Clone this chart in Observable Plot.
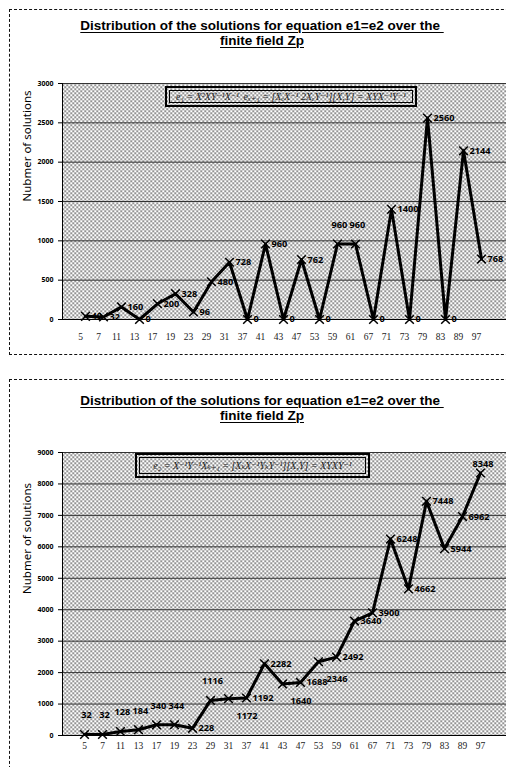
<!DOCTYPE html>
<html><head><meta charset="utf-8">
<script src="https://cdn.jsdelivr.net/npm/d3@7"></script>
<script src="https://cdn.jsdelivr.net/npm/@observablehq/plot@0.6"></script>
<style>
html,body{margin:0;padding:0;background:#fff}
body{width:506px;height:767px;overflow:hidden;position:relative;font-family:"Liberation Sans",Arial,sans-serif}
.box{position:absolute;border:1px dashed #111;border-right:none;box-sizing:border-box}
.title{position:absolute;left:12px;width:500px;text-align:center;font-weight:bold;font-size:13.5px;line-height:15px;color:#000}
.title u{text-decoration-thickness:1px;text-underline-offset:2px}
.formula{position:absolute;border:2px solid #000;outline:1px solid #000;outline-offset:-5px;box-sizing:border-box;font-family:"Liberation Serif","DejaVu Serif",serif;font-style:italic;font-size:10px;white-space:nowrap;display:flex;align-items:center;justify-content:center;color:#222}
.plot{position:absolute;left:0}
</style></head>
<body>
<script>
// ---- data ----
const primes = [5, 7, 11, 13, 17, 19, 23, 29, 31, 37, 41, 43, 47, 53, 59, 61, 67, 71, 73, 79, 83, 89, 97];
const solutions1 = [40, 32, 160, 0, 200, 328, 96, 480, 728, 0, 960, 0, 762, 0, 960, 960, 0, 1400, 0, 2560, 0, 2144, 768];
const solutions2 = [32, 32, 128, 184, 340, 344, 228, 1116, 1172, 1192, 2282, 1640, 1688, 2346, 2492, 3640, 3900, 6248, 4662, 7448, 5944, 6962, 8348];
const yTicks1 = [0, 500, 1000, 1500, 2000, 2500, 3000];
const yTicks2 = [0, 1000, 2000, 3000, 4000, 5000, 6000, 7000, 8000, 9000];
const titleLine1 = "Distribution of the solutions for equation e1=e2 over the\u00a0";
const titleLine2 = "finite field Zp";
const yLabel = "Nubmer of solutions";
const formula1 = "e\u2081 = X\u00b2XY\u207b\u00b9X\u207b\u00b9\u2009 e\u2093\u208a\u2081 = [X\u2091X\u207b\u00b9 2X\u2091Y\u207b\u00b9][X,Y] = XYX\u207b\u00b9Y\u207b\u00b9";
const formula2 = "e\u2082 = X\u207b\u00b9Y\u207b\u00b9X\u2096\u208a\u2081 = [X\u2096X\u207b\u00b9Y\u2096Y\u207b\u00b9][X,Y] = XYXY\u207b\u00b9";

const data1 = primes.map((p, i) => ({p, v: solutions1[i]}));
const data2 = primes.map((p, i) => ({p, v: solutions2[i]}));

function addPattern(svg, id) {
  const defs = d3.select(svg).insert("defs", ":first-child");
  const pat = defs.append("pattern").attr("id", id).attr("patternUnits", "userSpaceOnUse")
    .attr("width", 4).attr("height", 4);
  pat.append("rect").attr("width", 4).attr("height", 4).attr("fill", "#fff");
  pat.append("rect").attr("x", 0).attr("y", 0).attr("width", 1.4).attr("height", 1.4).attr("fill", "#222");
  pat.append("rect").attr("x", 2).attr("y", 2).attr("width", 1.4).attr("height", 1.4).attr("fill", "#222");
}

function chart({data, yTicks, top, height, mTop, mBottom, xRange, xPad, xDx, patId, labelPlace}) {
  const fmt = d => String(d.v);
  const sets = labelPlace(data);
  const lbl = {x: "p", y: "v", text: fmt, fontSize: 9.2, fontWeight: "bold", fill: "#000"};
  const svg = Plot.plot({
    width: 506, height, marginLeft: 62, marginRight: 0, marginTop: mTop, marginBottom: mBottom,
    style: {background: "transparent", overflow: "visible"},
    x: {type: "point", domain: primes, range: xRange},
    y: {domain: [0, yTicks[yTicks.length - 1]]},
    marks: [
      Plot.frame({fill: `url(#${patId})`, stroke: "none"}),
      Plot.gridY(yTicks, {stroke: "#333", strokeOpacity: 1, strokeWidth: 1}),
      Plot.ruleY([0], {stroke: "#000", strokeWidth: 1}),
      Plot.frame({anchor: "left", stroke: "#000", strokeWidth: 1}),
      Plot.axisY(yTicks, {tickSize: 4, tickPadding: 5, fontSize: 7, fontWeight: "bold", label: null, fill: "#000", tickFormat: d => String(d)}),
      Plot.axisX({tickSize: 0, tickPadding: xPad, fontSize: 9.5, fontFamily: "Liberation Serif, serif", label: null, dx: xDx, fill: "#222"}),
      Plot.text([yLabel], {frameAnchor: "left", dx: -35, rotate: -90, fontSize: 11.5, fill: "#000"}),
      Plot.line(data, {x: "p", y: "v", stroke: "#000", strokeWidth: 3}),
      Plot.dot(data, {x: "p", y: "v", symbol: "times", r: 4, stroke: "#000", strokeWidth: 1.5}),
      Plot.text(sets.right, {...lbl, textAnchor: "start", dx: 6}),
      Plot.text(sets.above, {...lbl, textAnchor: "middle", dx: 2, dy: -19}),
      Plot.text(sets.below, {...lbl, textAnchor: "start", dx: 8, dy: 17}),
      Plot.text(sets.edge, {...lbl, textAnchor: "end", dx: 13, dy: -9})
    ]
  });
  addPattern(svg, patId);
  svg.classList.add("plot");
  svg.style.top = top + "px";
  return svg;
}

function addBox(top, height) {
  const b = document.createElement("div");
  b.className = "box";
  b.style.left = "9px"; b.style.top = top + "px"; b.style.width = "520px"; b.style.height = height + "px";
  document.body.appendChild(b);
}
function addTitle(top) {
  const t = document.createElement("div");
  t.className = "title";
  t.style.top = top + "px";
  t.innerHTML = `<u>${titleLine1}</u><br><u>${titleLine2}</u>`;
  document.body.appendChild(t);
}
function addFormula(text, left, top, width, height) {
  const f = document.createElement("div");
  f.className = "formula";
  Object.assign(f.style, {left: left + "px", top: top + "px", width: width + "px", height: height + "px"});
  f.textContent = text;
  document.body.appendChild(f);
}

// ---- chart 1 ----
addBox(9, 346);
addTitle(18);
document.body.appendChild(chart({
  data: data1, yTicks: yTicks1, top: 70, height: 285, mTop: 13, mBottom: 36,
  xRange: [74, 492], xPad: 14, xDx: -5, patId: "pat1",
  labelPlace: d => ({
    right: d.filter(e => e.p !== 59 && e.p !== 61),
    above: d.filter(e => e.p === 59 || e.p === 61),
    below: [],
    edge: []
  })
}));
addFormula(formula1, 165, 86, 252, 21);

// ---- chart 2 ----
addBox(379, 400);
addTitle(393);
document.body.appendChild(chart({
  data: data2, yTicks: yTicks2, top: 440, height: 327, mTop: 12, mBottom: 32,
  xRange: [71, 493], xPad: 7, xDx: 0, patId: "pat2",
  labelPlace: d => {
    const above = new Set([5, 7, 11, 13, 17, 19, 29]);
    const below = new Set([31, 43, 53]);
    const edge = new Set([97]);
    return {
      right: d.filter(e => !above.has(e.p) && !below.has(e.p) && !edge.has(e.p)),
      above: d.filter(e => above.has(e.p)),
      below: d.filter(e => below.has(e.p)),
      edge: d.filter(e => edge.has(e.p))
    };
  }
}));
addFormula(formula2, 135, 453, 235, 25);
</script>
</body></html>
